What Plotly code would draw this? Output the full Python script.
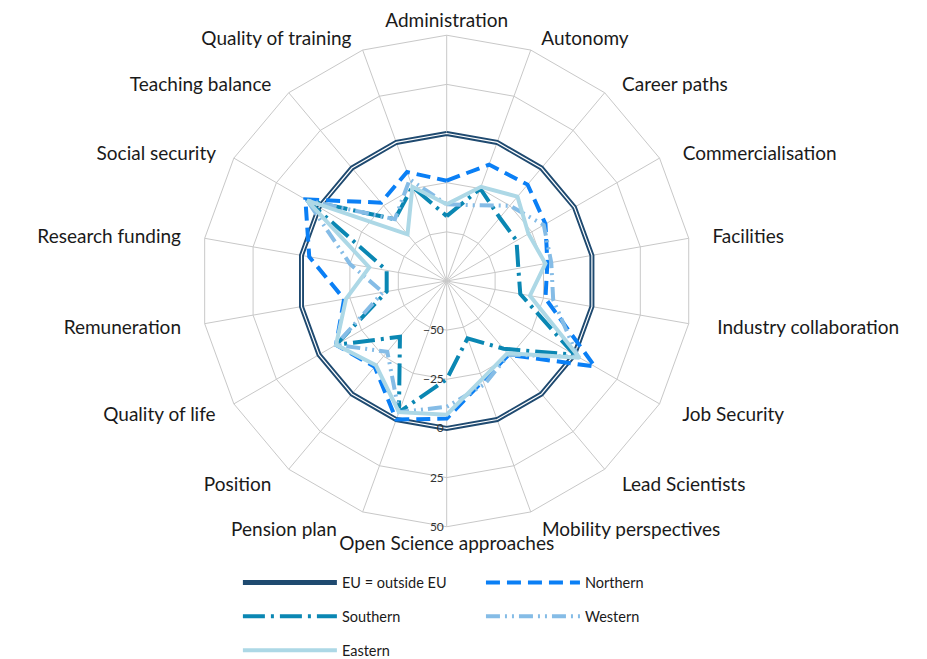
import plotly.graph_objects as go

categories = [
    'Administration', 'Autonomy', 'Career paths', 'Commercialisation', 'Facilities',
    'Industry collaboration', 'Job Security', 'Lead Scientists', 'Mobility perspectives',
    'Open Science approaches', 'Pension plan', 'Position', 'Quality of life',
    'Remuneration', 'Research funding', 'Social security', 'Teaching balance',
    'Quality of training'
]

eu_outside = [0, 0, 0, 0, 0, 0, 0, 0, 0, 0, 0, 0, 0, 0, 0, 0, 0, 0]
northern = [-24, -12, -11, -17, -23, -24, 12, -26, -21, -5, 0, -18, -10, -22, -4, 8, -23, -16]
southern = [-42, -25, -33, -34, -38, -37, 0, -30, -44, -25, -4, -38, -10, -44, -44, 7, -34, -24]
western = [-36, -34, -25, -18, -21, -20, 2, -26, -19, -11, -4, -28, -10, -42, -25, 7, -34, -20]
eastern = [-36, -24, -19, -27, -24, -32, 3, -27, -22, -7, -4, -19, -10, -23, -35, 7, -44, -24]

radial_ticks = [-50, -25, 0, 25, 50]

# extra gap between the ring and the side labels (non-breaking spaces)
label_pad = [0, 2, 3, 4, 4, 5, 4, 3, 2, 0, 5, 3, 3, 4, 4, 3, 3, 2]


def closed(values):
    # repeat the first point so the polygon closes
    return values + values[:1]


def padded(label, n, idx):
    gap = '\u00a0' * n
    # right half of the chart is anchored at the start, left half at the end
    return gap + label if idx < 9 else label + gap


tick_text = [padded(c, n, i) for i, (c, n) in enumerate(zip(categories, label_pad))]

theta = closed(categories)
fig = go.Figure()

# EU = outside EU drawn as a double line (dark with a thin white core)
fig.add_trace(go.Scatterpolar(
    r=closed(eu_outside), theta=theta, mode='lines', name='EU = outside EU',
    legend='legend', legendgroup='eu',
    line=dict(color='#1f4a70', width=5)
))
fig.add_trace(go.Scatterpolar(
    r=closed(eu_outside), theta=theta, mode='lines', showlegend=False,
    legendgroup='eu', hoverinfo='skip',
    line=dict(color='white', width=1.2)
))

fig.add_trace(go.Scatterpolar(
    r=closed(northern), theta=theta, mode='lines', name='Northern',
    legend='legend2', legendgroup='north',
    line=dict(color='#0a7ff5', width=4, dash='14px,7px')
))
fig.add_trace(go.Scatterpolar(
    r=closed(southern), theta=theta, mode='lines', name='Southern',
    legend='legend', legendgroup='south',
    line=dict(color='#0a87b3', width=4, dash='22px,6px,3px,6px')
))
fig.add_trace(go.Scatterpolar(
    r=closed(western), theta=theta, mode='lines', name='Western',
    legend='legend2', legendgroup='west',
    line=dict(color='#85bce6', width=4, dash='14px,5px,2px,5px,2px,5px')
))
fig.add_trace(go.Scatterpolar(
    r=closed(eastern), theta=theta, mode='lines', name='Eastern',
    legend='legend', legendgroup='east',
    line=dict(color='#add8e6', width=4)
))

legend_style = dict(
    xanchor='left', yanchor='top', orientation='v', tracegroupgap=12,
    itemwidth=94, font=dict(size=14.5, color='#1a1a1a'), bgcolor='rgba(0,0,0,0)'
)

fig.update_layout(
    width=927,
    height=659,
    margin=dict(l=0, r=0, t=0, b=0),
    paper_bgcolor='white',
    font=dict(family='Lato, sans-serif', color='#1a1a1a'),
    showlegend=True,
    polar=dict(
        domain=dict(x=[0.2057, 0.7408], y=[0.2056, 0.9583]),
        bgcolor='white',
        gridshape='linear',
        angularaxis=dict(
            rotation=90, direction='clockwise', showline=True,
            linecolor='#c8c8c8', linewidth=1, gridcolor='#c8c8c8',
            tickmode='array', tickvals=categories, ticktext=tick_text,
            ticks='', tickfont=dict(size=19, color='#1a1a1a')
        ),
        radialaxis=dict(
            range=[-75, 50], tickvals=radial_ticks, angle=-90, tickangle=-90,
            showline=False, gridcolor='#c8c8c8', ticks='',
            tickfont=dict(size=12, color='#333333')
        )
    ),
    legend=dict(x=0.2480, y=0.1446, **legend_style),
    legend2=dict(x=0.5102, y=0.1446, **legend_style)
)

fig.write_html('out.html')
